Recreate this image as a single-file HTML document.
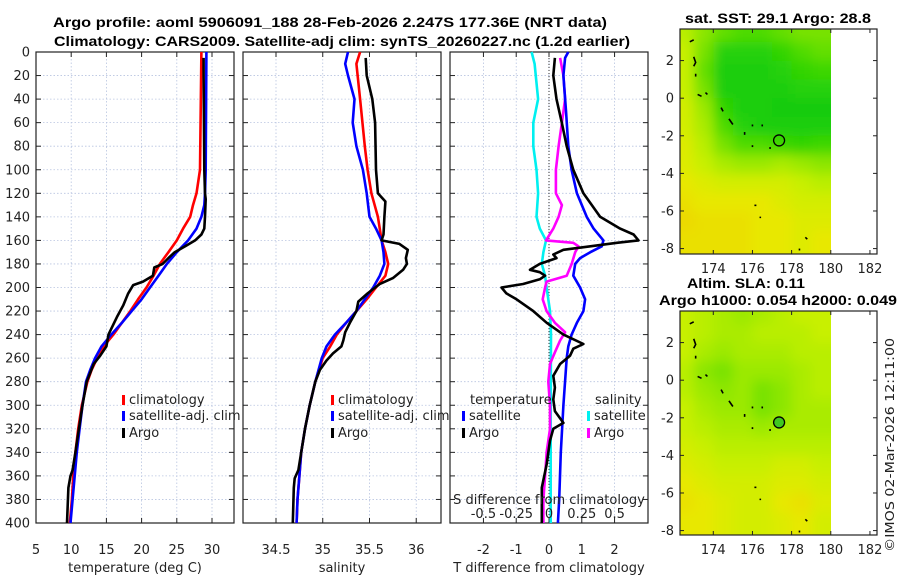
<!DOCTYPE html>
<html><head><meta charset="utf-8">
<style>
html,body{margin:0;padding:0;background:#fff;}
svg{display:block;font-family:"DejaVu Sans","Liberation Sans",sans-serif;}
.tk{font-size:13px;fill:#222;}
.ttl{font-family:"Liberation Sans",sans-serif;font-weight:bold;font-size:14px;fill:#000;}
</style></head>
<body>
<svg id="chart" width="900" height="580" viewBox="0 0 900 580" xmlns="http://www.w3.org/2000/svg">
<defs>
<filter id="blur" x="-10%" y="-10%" width="120%" height="120%"><feGaussianBlur stdDeviation="6"/></filter>
<clipPath id="clipMap1"><rect x="680" y="29" width="151" height="225"/></clipPath>
<clipPath id="clipMap2"><rect x="680" y="311" width="151" height="224"/></clipPath>
</defs>
<text class="ttl" x="330" y="27" text-anchor="middle" textLength="554" lengthAdjust="spacingAndGlyphs">Argo profile: aoml 5906091_188 28-Feb-2026 2.247S 177.36E (NRT data)</text>
<text class="ttl" x="342" y="46" text-anchor="middle" textLength="576" lengthAdjust="spacingAndGlyphs">Climatology: CARS2009. Satellite-adj clim: synTS_20260227.nc (1.2d earlier)</text>
<g id="layer"></g>
<text x="778" y="23" text-anchor="middle" class="ttl" textLength="186" lengthAdjust="spacingAndGlyphs">sat. SST: 29.1 Argo: 28.8</text>
<text x="746" y="288" text-anchor="middle" class="ttl" textLength="118" lengthAdjust="spacingAndGlyphs">Altim. SLA: 0.11</text>
<text x="778" y="305" text-anchor="middle" class="ttl" textLength="238" lengthAdjust="spacingAndGlyphs">Argo h1000: 0.054 h2000: 0.049</text>
<text x="0" y="0" transform="translate(894,445) rotate(-90)" text-anchor="middle" font-size="12.5" textLength="214" lengthAdjust="spacingAndGlyphs" fill="#222">©IMOS 02-Mar-2026 12:11:00</text>
</svg>
<script>
// ---- profile data (depth m) ----
const climTDepth=[0,100,120,130,140,150,160,170,180,190,200,210,220,230,240,250,260,270,280,300,320,340,360,380,400];
const climT=[28.5,28.3,27.8,27.3,26.9,25.9,25.0,23.8,22.6,21.7,20.7,19.5,18.4,17.2,16.0,14.6,13.7,12.9,12.3,11.5,11.0,10.6,10.3,10.1,9.8];
const satTDepth=[0,100,120,130,140,150,160,170,180,190,200,210,220,230,240,250,260,270,280,300,320,340,360,380,400];
const satT=[29.2,29.1,29.0,28.9,28.5,27.8,26.6,25.0,23.6,22.4,21.2,20.0,18.6,17.2,15.7,14.3,13.4,12.7,12.1,11.6,11.2,10.8,10.5,10.2,9.9];
const argoTDepth=[5,20,100,120,125,140,150,155,160,165,170,175,180,183,190,195,198,205,215,225,235,240,250,258,265,280,300,320,340,355,360,370,385,400];
const argoT=[28.8,28.8,28.9,29.0,29.1,29.0,28.9,28.5,27.6,26.2,24.7,23.8,23.0,21.8,21.6,20.2,18.8,18.1,17.4,16.5,15.7,15.3,15.0,14.1,13.2,12.2,11.6,11.1,10.6,10.2,9.9,9.6,9.5,9.4];

const climSDepth=[0,10,40,80,100,120,140,160,170,180,190,200,210,220,230,240,250,260,280,300,320,340,360,380,400];
const climS=[35.40,35.36,35.40,35.45,35.48,35.52,35.59,35.63,35.67,35.70,35.67,35.57,35.47,35.36,35.25,35.15,35.08,35.00,34.92,34.86,34.81,34.77,34.75,34.73,34.72];
const satSDepth=[0,10,20,40,60,80,100,120,140,150,160,170,180,190,200,210,220,230,240,250,260,280,300,320,340,360,380,400];
const satS=[35.27,35.24,35.27,35.34,35.32,35.36,35.43,35.47,35.50,35.57,35.63,35.65,35.66,35.61,35.54,35.45,35.36,35.25,35.13,35.04,34.99,34.92,34.86,34.81,34.77,34.75,34.73,34.72];
const argoSDepth=[5,20,40,60,100,120,127,140,155,160,163,168,175,180,185,192,197,205,212,220,230,238,245,250,256,262,270,280,300,320,340,355,362,370,400];
const argoS=[35.46,35.47,35.53,35.56,35.57,35.59,35.67,35.66,35.65,35.63,35.82,35.91,35.89,35.90,35.86,35.75,35.61,35.48,35.38,35.36,35.29,35.24,35.22,35.20,35.11,35.04,34.97,34.92,34.86,34.81,34.77,34.74,34.70,34.69,34.68];

const dTsatDepth=[0,5,20,50,80,100,120,140,150,160,165,170,175,180,190,200,210,220,230,240,250,260,300,340,380,400];
const dTsat=[0.59,0.49,0.44,0.52,0.59,0.69,0.85,1.15,1.36,1.66,1.61,1.26,0.95,0.80,0.74,0.95,1.10,1.05,0.85,0.69,0.59,0.54,0.44,0.36,0.31,0.27];
const dTargoDepth=[5,20,30,40,60,80,100,120,140,150,155,160,162,165,168,172,175,180,185,187,190,193,197,200,205,210,220,230,240,248,252,258,265,275,285,295,305,315,320,330,350,370,400];
const dTargo=[0.18,0.13,0.18,0.23,0.39,0.54,0.74,1.05,1.56,2.17,2.58,2.73,2.07,1.26,0.44,0.13,0.23,-0.28,-0.58,-0.28,-0.12,-0.28,-0.79,-1.45,-1.30,-0.99,-0.48,-0.07,0.44,1.05,0.74,0.64,0.34,0.13,0.18,0.13,0.18,0.44,0.13,0.03,-0.07,-0.22,-0.22];
const dSsatDepth=[0,10,40,60,80,100,120,140,150,160,170,180,190,200,220,240,300,400];
const dSsat=[-0.133,-0.11,-0.083,-0.12,-0.12,-0.095,-0.083,-0.095,-0.07,-0.023,-0.043,-0.055,-0.03,-0.018,0.008,0.015,0.013,0.013];
const dSargoDepth=[5,20,40,60,80,100,120,130,140,150,160,162,165,170,180,190,195,200,210,220,230,238,245,255,265,280,300,320,340,360,380,400];
const dSargo=[0.085,0.11,0.123,0.098,0.073,0.053,0.053,0.098,0.073,0.033,-0.023,0.185,0.225,0.2,0.173,0.135,-0.018,-0.03,-0.048,-0.018,0.045,0.123,0.085,0.045,0.008,-0.005,0.008,0.008,-0.018,-0.03,-0.043,-0.043];

// ---- map data: normalized colour value, rows lat 3.5..-8.5, cols lon 172.5..179.5 ----
const mapLats=[3.5,2.5,1.5,0.5,-0.5,-1.5,-2.5,-3.5,-4.5,-5.5,-6.5,-7.5,-8.5];
const mapLons=[172.5,173.5,174.5,175.5,176.5,177.5,178.5,179.5];
const sstGrid=[
[0.4,0.55,0.65,0.7,0.7,0.65,0.6,0.6],
[0.35,0.6,0.85,0.85,0.85,0.8,0.7,0.65],
[0.35,0.65,0.9,0.9,0.9,0.85,0.8,0.75],
[0.35,0.6,0.9,0.9,0.9,0.9,0.85,0.85],
[0.3,0.5,0.8,0.9,0.9,0.95,0.95,0.95],
[0.3,0.45,0.7,0.85,0.9,0.9,0.9,0.9],
[0.25,0.4,0.6,0.7,0.7,0.75,0.8,0.75],
[0.25,0.35,0.45,0.5,0.5,0.45,0.5,0.55],
[0.2,0.25,0.3,0.3,0.3,0.3,0.35,0.4],
[0.15,0.2,0.2,0.2,0.2,0.25,0.3,0.3],
[0.1,0.15,0.15,0.15,0.2,0.2,0.25,0.25],
[0.15,0.15,0.15,0.15,0.2,0.2,0.25,0.2],
[0.15,0.15,0.15,0.15,0.2,0.2,0.25,0.2]];
const slaGrid=[
[0.35,0.4,0.45,0.5,0.45,0.4,0.35,0.35],
[0.35,0.4,0.45,0.45,0.4,0.4,0.4,0.35],
[0.35,0.45,0.5,0.45,0.45,0.45,0.4,0.4],
[0.4,0.55,0.6,0.5,0.5,0.5,0.45,0.4],
[0.4,0.5,0.55,0.5,0.6,0.55,0.45,0.4],
[0.35,0.45,0.5,0.5,0.6,0.55,0.45,0.45],
[0.35,0.4,0.45,0.45,0.5,0.45,0.45,0.45],
[0.3,0.35,0.4,0.4,0.4,0.4,0.4,0.4],
[0.25,0.3,0.35,0.35,0.35,0.3,0.3,0.35],
[0.2,0.25,0.3,0.3,0.3,0.25,0.25,0.3],
[0.15,0.2,0.25,0.3,0.3,0.2,0.15,0.25],
[0.2,0.2,0.25,0.3,0.3,0.25,0.2,0.3],
[0.2,0.2,0.25,0.3,0.3,0.25,0.2,0.3]];
const argoLon=177.36, argoLat=-2.247;
const islands=[[[172.8,3.0],[173.0,3.1]],[[173.0,2.2],[173.1,1.9],[173.0,1.7]],[[173.1,1.3],[173.1,1.15]],[[173.2,0.2],[173.4,0.1]],[[173.6,0.3],[173.7,0.2]],[[174.4,-0.5],[174.5,-0.7]],[[174.8,-1.1],[175.0,-1.4]],[[175.6,-1.8],[175.6,-1.95]],[[176.0,-2.5],[176.0,-2.6]],[[176.0,-1.4],[176.0,-1.5]],[[176.5,-1.4],[176.5,-1.5]],[[176.9,-2.6],[176.9,-2.7]],[[176.1,-5.7],[176.2,-5.7]],[[176.4,-6.3],[176.4,-6.38]],[[178.7,-7.4],[178.8,-7.5]],[[178.4,-8.0],[178.4,-8.1]]];

const tTicks=[5,10,15,20,25,30];
const sTicks=[34.5,35,35.5,36];
const dTicks=[-2,-1,0,1,2];
const dSTickLabels=["-0.5","-0.25","0","0.25","0.5"];
const dSTickVals=[-0.5,-0.25,0,0.25,0.5];
const depthTicks=[0,20,40,60,80,100,120,140,160,180,200,220,240,260,280,300,320,340,360,380,400];
const lonTicks=[174,176,178,180,182];
const latTicks=[2,0,-2,-4,-6,-8];

const NS="http://www.w3.org/2000/svg";
const L=document.getElementById('layer');
function mk(tag,attrs,parent){const e=document.createElementNS(NS,tag);for(const k in attrs)e.setAttribute(k,attrs[k]);(parent||L).appendChild(e);return e;}
function lin(d0,d1,r0,r1){return v=>r0+(v-d0)*(r1-r0)/(d1-d0);}

const yD=lin(0,400,52,523);
const panels=[
 {x0:36,x1:234,sx:lin(5,33.125,36,234),ticks:tTicks,label:"temperature (deg C)",name:"temperature-panel"},
 {x0:243,x1:441,sx:lin(34.147,36.265,243,441),ticks:sTicks,label:"salinity",name:"salinity-panel"},
 {x0:450,x1:648,sx:lin(-3.02,3.02,450,648),ticks:dTicks,label:"T difference from climatology",name:"difference-panel"}];

panels.forEach((p,i)=>{
  const g=mk('g',{});
  
  
  depthTicks.forEach(d=>{
    const y=yD(d);
    const gl=mk('line',{x1:p.x0,x2:p.x1,y1:y,y2:y,stroke:'#b8c4e0','stroke-width':0.8,'stroke-dasharray':'1.5,2'},g);
    
    
    mk('line',{x1:p.x0,x2:p.x0+5,y1:y,y2:y,stroke:'#222'},g);
    mk('line',{x1:p.x1,x2:p.x1-5,y1:y,y2:y,stroke:'#222'},g);
    if(i===0){const t=mk('text',{x:30,y:y+4.5,'text-anchor':'end',class:'tk'},g);t.textContent=d;
      
      }
  });
  p.ticks.forEach(v=>{
    const x=p.sx(v);
    const gl=mk('line',{x1:x,x2:x,y1:52,y2:523,stroke:'#b8c4e0','stroke-width':0.8,'stroke-dasharray':'1.5,2'},g);
    
    
    mk('line',{x1:x,x2:x,y1:52,y2:57,stroke:'#222'},g);
    mk('line',{x1:x,x2:x,y1:523,y2:518,stroke:'#222'},g);
    const t=mk('text',{x:x,y:554,'text-anchor':'middle',class:'tk'},g);t.textContent=v;
    
    
  });
  const b=mk('rect',{x:p.x0,y:52,width:p.x1-p.x0,height:471,fill:'none',stroke:'#222','stroke-width':1.2},g);
  
  
  const xl=mk('text',{x:(p.x0+p.x1)/2,y:572,'text-anchor':'middle',class:'tk','font-size':'13.5'},g);xl.textContent=p.label;
  
  
});
const zl=mk('line',{x1:panels[2].sx(0),x2:panels[2].sx(0),y1:52,y2:523,stroke:'#333','stroke-width':1,'stroke-dasharray':'1,2'});



function series(depths,vals,sx,color,name,scale){
  const pts=depths.map((d,k)=>sx(vals[k]*(scale||1)).toFixed(1)+','+yD(d).toFixed(1));
  const e=mk('polyline',{points:pts.join(' '),fill:'none',stroke:color,'stroke-width':2.6,'stroke-linejoin':'round'});
  
  
}
series(climTDepth,climT,panels[0].sx,'#ff0000','temperature-climatology-line');
series(satTDepth,satT,panels[0].sx,'#0000ff','temperature-satellite-line');
series(argoTDepth,argoT,panels[0].sx,'#000000','temperature-argo-line');
series(climSDepth,climS,panels[1].sx,'#ff0000','salinity-climatology-line');
series(satSDepth,satS,panels[1].sx,'#0000ff','salinity-satellite-line');
series(argoSDepth,argoS,panels[1].sx,'#000000','salinity-argo-line');
series(dSsatDepth,dSsat,panels[2].sx,'#00f0f0','salinity-diff-satellite-line',4);
series(dSargoDepth,dSargo,panels[2].sx,'#ff00ff','salinity-diff-argo-line',4);
series(dTsatDepth,dTsat,panels[2].sx,'#0000ff','temperature-diff-satellite-line');
series(dTargoDepth,dTargo,panels[2].sx,'#000000','temperature-diff-argo-line');

function legend(x,y,color,label,name){
  const g=mk('g',{});
  
  
  if(color) mk('rect',{x:x,y:y-9,width:3,height:10,fill:color},g);
  const t=mk('text',{x:x+7,y:y,class:'tk','font-size':'13.5'},g);t.textContent=label;
}
legend(122,404,'#ff0000','climatology','legend-entry-climatology');
legend(122,420,'#0000ff','satellite-adj. clim','legend-entry-satellite');
legend(122,437,'#000000','Argo','legend-entry-argo');
legend(331,404,'#ff0000','climatology','legend-entry-climatology');
legend(331,420,'#0000ff','satellite-adj. clim','legend-entry-satellite');
legend(331,437,'#000000','Argo','legend-entry-argo');
legend(463,404,null,'temperature','legend-temperature-header');
legend(462,420,'#0000ff','satellite','legend-entry-t-satellite');
legend(462,437,'#000000','Argo','legend-entry-t-argo');
legend(588,404,null,'salinity','legend-salinity-header');
legend(587,420,'#00f0f0','satellite','legend-entry-s-satellite');
legend(587,437,'#ff00ff','Argo','legend-entry-s-argo');
const st=mk('text',{x:549,y:504,'text-anchor':'middle',class:'tk','font-size':'13.5'});st.textContent='S difference from climatology';


dSTickVals.forEach((v,k)=>{
  const t=mk('text',{x:panels[2].sx(v*4),y:518,'text-anchor':'middle',class:'tk'});t.textContent=dSTickLabels[k];
  
  
});

// ---- maps ----
const stops=[[0,[240,200,0]],[0.2,[232,232,0]],[0.35,[200,240,0]],[0.55,[140,230,0]],[0.75,[60,215,0]],[1,[10,200,20]]];
function cmap(v){for(let i=1;i<stops.length;i++){if(v<=stops[i][0]){const a=stops[i-1],b=stops[i];const t=(v-a[0])/(b[0]-a[0]);const c=a[1].map((q,j)=>Math.round(q+(b[1][j]-q)*t));return 'rgb('+c.join(',')+')';}}return 'rgb(10,200,20)';}
function drawMap(grid,y0,y1,clip,name){
  const mx=lin(172.3,182.36,680,877), my=lin(3.68,3.68-(y1-y0)/18.8,y0,y1);
  const g=mk('g',{});
  
  
  const cg=mk('g',{'clip-path':'url(#'+clip+')'},g);
  const bg=mk('g',{filter:'url(#blur)'},cg);
  const cw=mx(1)-mx(0), ch=my(0)-my(1);
  for(let r=-1;r<=grid.length;r++){for(let c=-1;c<=mapLons.length;c++){
    const rr=Math.max(0,Math.min(grid.length-1,r)), cc=Math.max(0,Math.min(mapLons.length-1,c));
    const lon=mapLons[cc]+(c-cc), lat=mapLats[rr]-(r-rr);
    const cell=mk('rect',{x:mx(lon-0.5),y:my(lat+0.5),width:cw+0.5,height:ch+0.5,fill:cmap(grid[rr][cc])},bg);
    
    
  }}
  islands.forEach(seg=>{
    const isl=mk('polyline',{points:seg.map(p=>mx(p[0])+','+my(p[1])).join(' '),fill:'none',stroke:'#000','stroke-width':1.6},g);
    
    
  });
  const c=mk('circle',{cx:mx(argoLon),cy:my(argoLat),r:5.5,fill:name==='sla-map'?'#40c820':'none',stroke:'#000','stroke-width':1.3},g);
  
  
  mk('rect',{x:680,y:y0,width:197,height:y1-y0,fill:'none',stroke:'#222','stroke-width':1.2},g);
  lonTicks.forEach(v=>{const x=mx(v);
    mk('line',{x1:x,x2:x,y1:y1,y2:y1-4,stroke:'#222'},g);mk('line',{x1:x,x2:x,y1:y0,y2:y0+4,stroke:'#222'},g);
    const t=mk('text',{x:x,y:y1+19,'text-anchor':'middle',class:'tk'},g);t.textContent=v;
    
    });
  latTicks.forEach(v=>{const y=my(v);
    mk('line',{x1:680,x2:684,y1:y,y2:y,stroke:'#222'},g);mk('line',{x1:877,x2:873,y1:y,y2:y,stroke:'#222'},g);
    const t=mk('text',{x:674,y:y+4.5,'text-anchor':'end',class:'tk'},g);t.textContent=v;
    
    });
}
drawMap(sstGrid,29,254,'clipMap1','sst-map');
drawMap(slaGrid,311,535,'clipMap2','sla-map');
</script>
</body></html>
